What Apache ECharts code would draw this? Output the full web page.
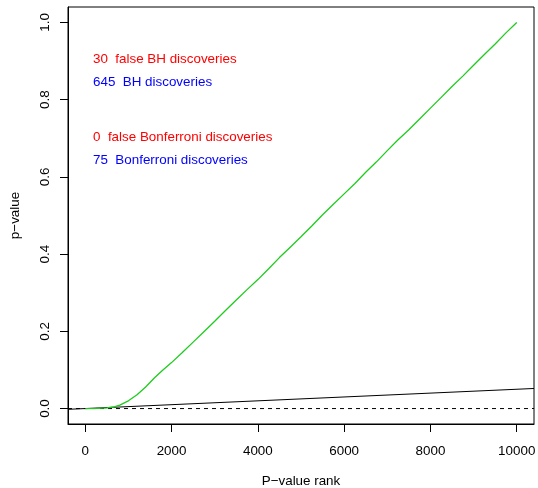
<!DOCTYPE html>
<html>
<head>
<meta charset="utf-8">
<script src="https://cdn.jsdelivr.net/npm/echarts@6/dist/echarts.min.js"></script>
<style>
  html, body { margin: 0; padding: 0; background: #fff; }
  #chart { width: 538px; height: 488px; }
</style>
</head>
<body>
<div id="chart"></div>
<script>
// Sorted p-values: rank on x, p-value on y
const ranks = [1, 250, 500, 650, 800, 1000, 1200, 1400, 1600, 1800, 2000, 2250, 2500, 2750,
  3000, 3250, 3500, 3750, 4000, 4250, 4500, 4750, 5000, 5250, 5500, 5750, 6000, 6250,
  6500, 6750, 7000, 7250, 7500, 7750, 8000, 8250, 8500, 8750, 9000, 9250, 9500, 9750, 10000];
const pValues = [0.0, 0.0003, 0.002, 0.004, 0.009, 0.020, 0.036, 0.056, 0.079, 0.100, 0.119,
  0.145, 0.172, 0.199, 0.226, 0.254, 0.281, 0.308, 0.334, 0.362, 0.391, 0.418, 0.445,
  0.473, 0.502, 0.529, 0.556, 0.583, 0.612, 0.639, 0.668, 0.696, 0.722, 0.750, 0.778,
  0.806, 0.834, 0.861, 0.889, 0.917, 0.944, 0.973, 1.000];

// BH threshold line (q = 0.05) and Bonferroni cutoff, spanning the plot
const bhLineX = [-400, 10400];
const bhLineY = [-0.002, 0.052];
const bonfLineX = [-400, 10400];
const bonfLineY = [0.000005, 0.000005];

// Tick positions
const xTicks = [0, 2000, 4000, 6000, 8000, 10000];
const yTicks = [0, 0.2, 0.4, 0.6, 0.8, 1.0];

// Summary annotations
const notes = [
  { text: '30  false BH discoveries', color: '#FF0000' },
  { text: '645  BH discoveries', color: '#0000FF' },
  { text: '0  false Bonferroni discoveries', color: '#FF0000' },
  { text: '75  Bonferroni discoveries', color: '#0000FF' }
];
const noteY = [59.7, 82.8, 137.8, 160];

const FONT = '"Liberation Sans", Arial, Helvetica, sans-serif';
const FS = 13.4;

const chart = echarts.init(document.getElementById('chart'), null, { renderer: 'canvas' });

const zip = (a, b) => a.map((v, i) => [v, b[i]]);

chart.setOption({
  animation: false,
  backgroundColor: '#ffffff',
  grid: {
    left: 68, right: 4, top: 7, bottom: 64,
    containLabel: false,
    outerBoundsMode: 'none',
    show: true, borderColor: '#000', borderWidth: 1, backgroundColor: 'transparent'
  },
  xAxis: {
    type: 'value',
    min: -399.96, max: 10399.96,
    name: 'P\u2212value rank',
    nameLocation: 'middle',
    nameGap: 51,
    nameTextStyle: { color: '#000', fontFamily: FONT, fontSize: FS },
    axisLine: { show: true, onZero: false, lineStyle: { color: '#000', width: 1 } },
    axisTick: { show: true, length: 8, inside: false, customValues: xTicks, lineStyle: { color: '#000' } },
    axisLabel: { show: true, customValues: xTicks, margin: 21, color: '#000', fontFamily: FONT, fontSize: FS,
      formatter: v => String(v) },
    splitLine: { show: false }
  },
  yAxis: {
    type: 'value',
    min: -0.04, max: 1.04,
    name: 'p\u2212value',
    nameLocation: 'middle',
    nameGap: 46,
    nameRotate: 90,
    nameTextStyle: { color: '#000', fontFamily: FONT, fontSize: FS },
    axisLine: { show: true, onZero: false, lineStyle: { color: '#000', width: 1 } },
    axisTick: { show: true, length: 8, inside: false, customValues: yTicks, lineStyle: { color: '#000' } },
    axisLabel: { show: true, customValues: yTicks, rotate: 90, margin: 16, color: '#000', fontFamily: FONT, fontSize: FS,
      formatter: v => v.toFixed(1) },
    splitLine: { show: false }
  },
  series: [
    {
      type: 'line',
      data: zip(ranks, pValues),
      showSymbol: false,
      symbol: 'none',
      lineStyle: { color: '#1ECC1E', width: 1.3 },
      z: 3
    },
    {
      type: 'line',
      data: zip(bhLineX, bhLineY),
      showSymbol: false,
      symbol: 'none',
      lineStyle: { color: '#000', width: 1 },
      z: 2
    },
    {
      type: 'line',
      data: zip(bonfLineX, bonfLineY),
      showSymbol: false,
      symbol: 'none',
      lineStyle: { color: '#000', width: 1, type: [4, 4] },
      z: 2
    }
  ],
  graphic: notes.map((n, i) => ({
    type: 'text',
    x: 93,
    y: noteY[i],
    style: {
      text: n.text,
      fill: n.color,
      font: FS + 'px ' + FONT,
      align: 'left',
      verticalAlign: 'middle'
    }
  }))
});
</script>
</body>
</html>
